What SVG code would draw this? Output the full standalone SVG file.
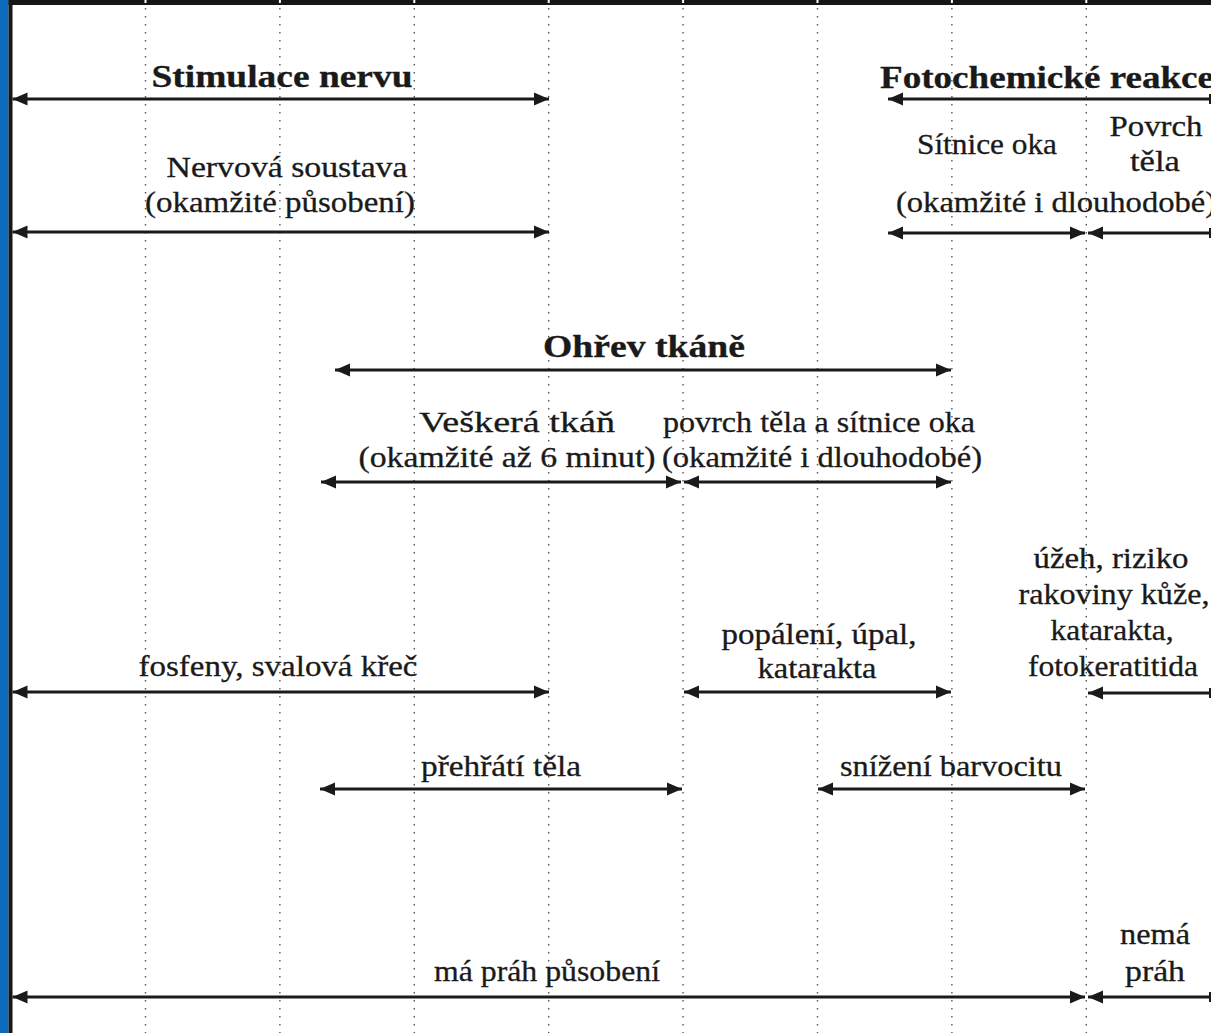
<svg xmlns="http://www.w3.org/2000/svg" width="1211" height="1033" viewBox="0 0 1211 1033">
<style>
.t{font-family:'Liberation Serif','Times New Roman',serif;font-size:28.5px;fill:#1a1a1a;stroke:#1a1a1a;stroke-width:0.3;text-anchor:middle}
.b{font-weight:bold;font-size:30.5px}
.grid{stroke:#555;stroke-width:1.4;stroke-dasharray:1.4 6.6;fill:none}
.a{stroke:#1a1a1a;stroke-width:3;fill:none;marker-start:url(#ah);marker-end:url(#ah)}
.as{stroke:#1a1a1a;stroke-width:3;fill:none;marker-start:url(#ah)}
.cap{stroke:#1a1a1a;stroke-width:2}
</style>
<defs>
<marker id="ah" markerUnits="userSpaceOnUse" markerWidth="16" markerHeight="16" viewBox="0 0 16 16" refX="15" refY="8" orient="auto-start-reverse">
<path d="M0,1.5 L15,8 L0,14.5 Z" fill="#1a1a1a"/>
</marker>
</defs>
<rect width="1211" height="1033" fill="#fff"/>
<g id="frame">
<rect x="0" y="0" width="8.5" height="1033" fill="#0b6cbd"/>
<rect x="8.5" y="0" width="4" height="1033" fill="#161616"/>
<rect x="8.5" y="0" width="1203" height="5" fill="#161616"/>
</g>
<g id="grid">
<path class="grid" d="M145.5,8V1033M279.9,8V1033M414.3,8V1033M548.7,8V1033M683.1,8V1033M817.5,8V1033M951.9,8V1033M1086.3,8V1033"/>
<g fill="#fff">
<rect x="144.5" y="0" width="2" height="3"/><rect x="278.9" y="0" width="2" height="3"/><rect x="413.3" y="0" width="2" height="3"/><rect x="547.7" y="0" width="2" height="3"/><rect x="682.1" y="0" width="2" height="3"/><rect x="816.5" y="0" width="2" height="3"/><rect x="950.9" y="0" width="2" height="3"/><rect x="1085.3" y="0" width="2" height="3"/>
</g>
</g>
<g id="connectors">
<line class="a" x1="12.5" y1="99" x2="549" y2="99"/>
<line class="as" x1="888" y1="99" x2="1211" y2="99"/><line class="cap" x1="1210" y1="94" x2="1210" y2="104"/>
<line class="a" x1="12.5" y1="232" x2="549" y2="232"/>
<line class="a" x1="888" y1="233" x2="1085" y2="233"/>
<line class="as" x1="1088" y1="233" x2="1211" y2="233"/><line class="cap" x1="1210" y1="228" x2="1210" y2="238"/>
<line class="a" x1="335" y1="370" x2="951" y2="370"/>
<line class="a" x1="321" y1="482" x2="681" y2="482"/>
<line class="a" x1="684" y1="482" x2="951" y2="482"/>
<line class="a" x1="12.5" y1="692" x2="549" y2="692"/>
<line class="a" x1="684" y1="692" x2="951" y2="692"/>
<line class="as" x1="1088" y1="693" x2="1211" y2="693"/><line class="cap" x1="1210" y1="688" x2="1210" y2="698"/>
<line class="a" x1="320" y1="789" x2="682" y2="789"/>
<line class="a" x1="818" y1="789" x2="1085" y2="789"/>
<line class="a" x1="12.5" y1="997" x2="1085" y2="997"/>
<line class="as" x1="1088" y1="997" x2="1211" y2="997"/><line class="cap" x1="1210" y1="992" x2="1210" y2="1002"/>
</g>
<g id="labels">
<g id="stimulace"><text class="t b" x="282" y="87" textLength="261" lengthAdjust="spacingAndGlyphs">Stimulace nervu</text></g>
<g id="fotochem"><text class="t b" x="1047" y="88" textLength="334" lengthAdjust="spacingAndGlyphs">Fotochemické reakce</text></g>
<g id="nervova">
<text class="t" x="287" y="177" textLength="241" lengthAdjust="spacingAndGlyphs">Nervová soustava</text>
<text class="t" x="280" y="212" textLength="270" lengthAdjust="spacingAndGlyphs">(okamžité působení)</text>
</g>
<g id="sitnice"><text class="t" x="987" y="154" textLength="140" lengthAdjust="spacingAndGlyphs">Sítnice oka</text></g>
<g id="povrch">
<text class="t" x="1156" y="136" textLength="93" lengthAdjust="spacingAndGlyphs">Povrch</text>
<text class="t" x="1155" y="171" textLength="50" lengthAdjust="spacingAndGlyphs">těla</text>
</g>
<g id="foto-trvani"><text class="t" x="1056" y="212" textLength="320" lengthAdjust="spacingAndGlyphs">(okamžité i dlouhodobé)</text></g>
<g id="ohrev"><text class="t b" x="644" y="357" textLength="202" lengthAdjust="spacingAndGlyphs">Ohřev tkáně</text></g>
<g id="veskera">
<text class="t" x="517" y="432" textLength="196" lengthAdjust="spacingAndGlyphs">Veškerá tkáň</text>
<text class="t" x="507" y="467" textLength="297" lengthAdjust="spacingAndGlyphs">(okamžité až 6 minut)</text>
</g>
<g id="povrch-sitnice">
<text class="t" x="819" y="432" textLength="312" lengthAdjust="spacingAndGlyphs">povrch těla a sítnice oka</text>
<text class="t" x="822" y="467" textLength="320" lengthAdjust="spacingAndGlyphs">(okamžité i dlouhodobé)</text>
</g>
<g id="fosfeny"><text class="t" x="278" y="676" textLength="279" lengthAdjust="spacingAndGlyphs">fosfeny, svalová křeč</text></g>
<g id="popaleni">
<text class="t" x="819" y="644" textLength="195" lengthAdjust="spacingAndGlyphs">popálení, úpal,</text>
<text class="t" x="817" y="678" textLength="119" lengthAdjust="spacingAndGlyphs">katarakta</text>
</g>
<g id="uzeh">
<text class="t" x="1111" y="568" textLength="155" lengthAdjust="spacingAndGlyphs">úžeh, riziko</text>
<text class="t" x="1114" y="604" textLength="191" lengthAdjust="spacingAndGlyphs">rakoviny kůže,</text>
<text class="t" x="1112" y="640" textLength="123" lengthAdjust="spacingAndGlyphs">katarakta,</text>
<text class="t" x="1113" y="676" textLength="170" lengthAdjust="spacingAndGlyphs">fotokeratitida</text>
</g>
<g id="prehrati"><text class="t" x="501" y="776" textLength="160" lengthAdjust="spacingAndGlyphs">přehřátí těla</text></g>
<g id="snizeni"><text class="t" x="951" y="776" textLength="222" lengthAdjust="spacingAndGlyphs">snížení barvocitu</text></g>
<g id="ma-prah"><text class="t" x="547" y="981" textLength="226" lengthAdjust="spacingAndGlyphs">má práh působení</text></g>
<g id="nema-prah">
<text class="t" x="1155" y="944" textLength="70" lengthAdjust="spacingAndGlyphs">nemá</text>
<text class="t" x="1155" y="981" textLength="60" lengthAdjust="spacingAndGlyphs">práh</text>
</g>
</g>
</svg>
